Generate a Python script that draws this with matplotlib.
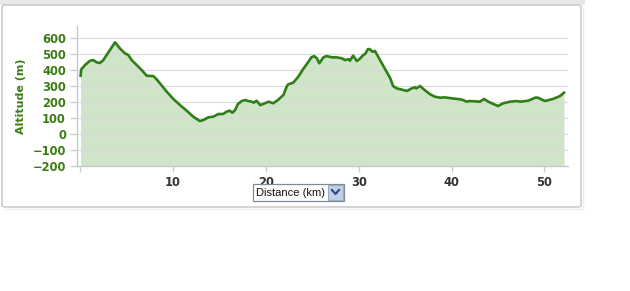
import matplotlib
matplotlib.use("Agg")
import matplotlib.pyplot as plt
from matplotlib.patches import FancyBboxPatch, Rectangle
from matplotlib.lines import Line2D

# ---- data ----
distance_km = [0.07, 0.14, 0.54, 1.08, 1.43, 1.79, 2.15, 2.51, 2.87, 3.23, 3.77, 4.3, 4.84,
               5.2, 5.56, 6.1, 6.64, 7.18, 7.9, 8.25, 8.6, 9.33, 10.05, 10.76, 11.48, 12.2,
               12.9, 13.27, 13.8, 14.35, 14.9, 15.4, 15.8, 16.1, 16.4, 16.7, 17.0, 17.4,
               17.8, 18.1, 18.5, 18.7, 19.0, 19.4, 19.7, 20.3, 20.8, 21.3, 21.9, 22.25,
               22.4, 22.96, 23.5, 24.0, 24.6, 24.9, 25.2, 25.5, 25.76, 26.2, 26.55, 27.1,
               27.6, 28.2, 28.5, 28.9, 29.06, 29.4, 29.8, 30.1, 30.5, 30.7, 31.0, 31.2,
               31.5, 31.75, 32.3, 32.8, 33.4, 33.7, 34.1, 34.8, 35.2, 35.7, 36.06, 36.2,
               36.6, 37.1, 37.7, 38.2, 38.75, 39.3, 40.0, 40.9, 41.25, 41.6, 41.98, 43.06,
               43.5, 43.95, 44.5, 45.0, 45.56, 46.3, 47.0, 47.4, 48.25, 49.0, 49.3, 50.05,
               50.9, 51.67, 52.1]
altitude_m = [364, 404, 431, 458, 462, 448, 444, 462, 494, 525, 573, 535, 504,
              494, 462, 431, 400, 364, 362, 342, 317, 265, 219, 181, 146, 108,
              81, 87, 104, 108, 125, 125, 140, 146, 133, 150, 187, 206,
              212, 206, 202, 196, 208, 181, 187, 202, 192, 212, 244, 296,
              310, 321, 358, 404, 452, 479, 487, 473, 442, 479, 487, 479,
              479, 473, 462, 467, 458, 490, 456, 469, 494, 500, 531, 529,
              514, 519, 462, 410, 348, 300, 285, 275, 269, 285, 292, 285,
              300, 275, 248, 233, 227, 229, 223, 217, 212, 202, 206, 202,
              219, 202, 187, 175, 192, 202, 206, 202, 208, 227, 227, 206,
              219, 237, 258]
y_ticks = [-200, -100, 0, 100, 200, 300, 400, 500, 600]
y_tick_labels = ["\u2212200", "\u2212100", "0", "100", "200", "300", "400", "500", "600"]
x_ticks = [0, 10, 20, 30, 40, 50]
x_tick_labels = ["", "10", "20", "30", "40", "50"]
y_label = "Altitude (m)"
selector_text = "Distance (km)"

W, H = 630, 291
fig = plt.figure(figsize=(W / 100, H / 100), dpi=100)
fig.patch.set_facecolor("white")

def fx(px):
    return px / W

def fy(py):
    return 1 - py / H

# top gray strip and panel
fig.add_artist(Rectangle((0, fy(5)), fx(585), 5 / H, transform=fig.transFigure,
                         facecolor="#e8e8e8", edgecolor="none", zorder=0))
fig.add_artist(Line2D([fx(4), fx(583)], [fy(208.5), fy(208.5)], transform=fig.transFigure,
                      color="#ededed", linewidth=1.0, zorder=0))
fig.add_artist(Line2D([fx(582.5), fx(582.5)], [fy(8), fy(209)], transform=fig.transFigure,
                      color="#ededed", linewidth=1.0, zorder=0))
fig.add_artist(FancyBboxPatch((fx(2), fy(207)), fx(579), (202) / H,
                              boxstyle="round,pad=0,rounding_size=0.006",
                              transform=fig.transFigure, facecolor="white",
                              edgecolor="#c4c4c4", linewidth=1.0, zorder=0))

ax = fig.add_axes([fx(77), fy(166), fx(568 - 77), (166 - 26) / H])
ax.set_facecolor("none")
ax.set_xlim(-0.32, 52.53)
ax.set_ylim(-200, 675)

line_color = "#2f7f17"
ax.fill_between(distance_km, altitude_m, -200, color="#cfe4c8", linewidth=0, zorder=1)
ax.plot(distance_km, altitude_m, color=line_color, linewidth=1.9, zorder=3,
        solid_joinstyle="round")

ax.set_yticks(y_ticks)
ax.set_yticklabels(y_tick_labels, fontsize=8.3, fontweight="bold", color="#3b7d14")
ax.set_xticks(x_ticks)
ax.set_xticklabels(x_tick_labels, fontsize=8.3, fontweight="bold", color="#333333")
ax.yaxis.grid(True, color="#d9dcdc", linewidth=0.9, zorder=2)
ax.set_axisbelow(False)
for gl in ax.get_ygridlines():
    gl.set_zorder(2)

for s in ["top", "right"]:
    ax.spines[s].set_visible(False)
for s in ["left", "bottom"]:
    ax.spines[s].set_color("#c0c8d0")
    ax.spines[s].set_linewidth(1.0)

ax.tick_params(axis="y", length=5, width=0.9, color="#c8cccc", pad=3)
ax.tick_params(axis="x", length=4, width=0.9, color="#c8cccc", pad=3)

ax.set_ylabel(y_label, fontsize=8, fontweight="bold", color="#3b7d14", labelpad=5)

# selector box under the x axis
fig.add_artist(Rectangle((fx(253), fy(201)), fx(91), 17 / H, transform=fig.transFigure,
                         facecolor="white", edgecolor="#7f8a95", linewidth=0.9, zorder=5))
fig.add_artist(Rectangle((fx(328), fy(200)), fx(15), 15 / H, transform=fig.transFigure,
                         facecolor="#c3d1e6", edgecolor="#98abc8", linewidth=0.8, zorder=6))
fig.add_artist(Line2D([fx(332), fx(335.5), fx(339)], [fy(190), fy(194), fy(190)],
                      transform=fig.transFigure, color="#2a4d8f", linewidth=1.6, zorder=7))
fig.text(fx(256), fy(192.5), selector_text, fontsize=8, family="Liberation Sans",
         color="#111111", va="center", ha="left", zorder=7)

fig.savefig("out.png", dpi=100, facecolor="white")
